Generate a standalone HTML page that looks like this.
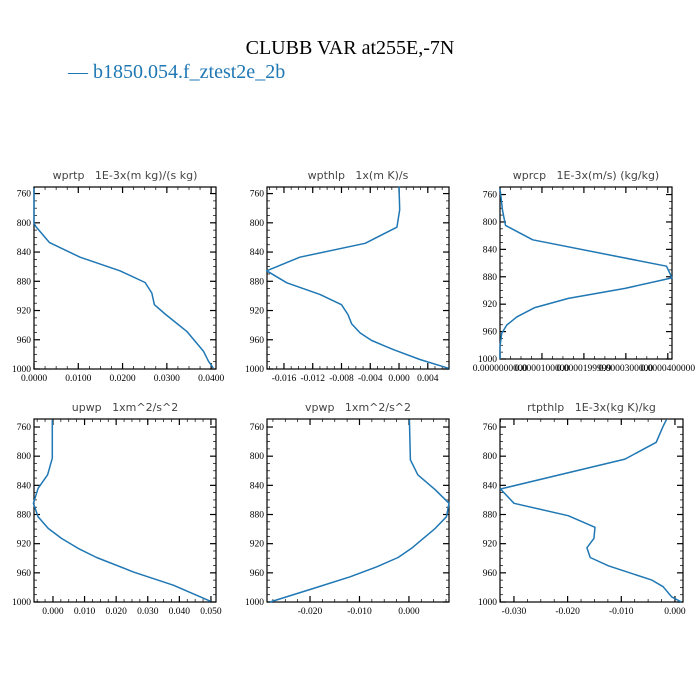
<!DOCTYPE html>
<html><head><meta charset="utf-8">
<style>
html,body{margin:0;padding:0;background:#fff;}
svg{display:block;}
.tt{font-family:"DejaVu Sans","Liberation Sans",sans-serif;font-size:11px;fill:#444;white-space:pre;}
.tk{font-family:"Liberation Serif",serif;font-size:9.5px;fill:#000;}
</style></head>
<body>
<svg id="c" width="700" height="700" viewBox="0 0 700 700">
<text x="350" y="54" text-anchor="middle" font-family="Liberation Serif, serif" font-size="20" fill="#000">CLUBB VAR at255E,-7N</text>
<g>
<text x="68" y="78" font-family="Liberation Serif, serif" font-size="20" fill="#1f77b4">— b1850.054.f_ztest2e_2b</text>
</g>
</svg>
<script>
// wprtp
const p1=[752.8,800.5,805,827,847,865.7,881.6,896,912,924.8,948.6,975.9,989.5,998.6];
const v1=[0,0,0.0004,0.0035,0.0104,0.0194,0.0251,0.0266,0.0272,0.0296,0.0345,0.0383,0.0394,0.0405];
// wpthlp
const p2=[750.6,782,806,828,847,865.7,882,898,912,925.6,938,950.7,961,973.5,987,999];
const v2=[0,0.0001,-0.0003,-0.0047,-0.0138,-0.0184,-0.0156,-0.011,-0.008,-0.0071,-0.0066,-0.0054,-0.0038,-0.0008,0.0029,0.0069];
// wprcp
const p3=[751,783,805,826,864.6,881.6,897,911.6,925,938.5,950.5,962.6,982,1000];
const v3=[0,0.6e-6,1.3e-6,7.8e-6,39.7e-6,41e-6,29.8e-6,16.3e-6,8.3e-6,4e-6,1.6e-6,0.4e-6,0,0];
// upwp
const p4=[750,802.7,825.6,844,864.6,883,899,912.8,926.5,939,958.7,977,999];
const v4=[-0.0002,-0.0002,-0.0017,-0.0047,-0.0062,-0.0047,-0.0015,0.0027,0.0080,0.0138,0.0254,0.0381,0.0499];
// vpwp
const p5=[750,805,825.6,846,864.6,883,899,926.5,939,951.7,965.5,982,1000];
const v5=[0.0001,0.0003,0.0018,0.0053,0.0081,0.0076,0.0053,0.0005,-0.0022,-0.0065,-0.0119,-0.0196,-0.0281];
// rtpthlp
const p6=[750,759,781,804,845,864.6,881.6,897.6,912.8,925.6,939,950.4,970,979,993,1000];
const v6=[-0.0016,-0.0022,-0.0035,-0.0093,-0.0325,-0.030,-0.0199,-0.0149,-0.0151,-0.0164,-0.0158,-0.0124,-0.0043,-0.0022,-0.0006,0.0012];
const yTicks=[760,800,840,880,920,960,1000];
const xt1=["0.0000","0.0100","0.0200","0.0300","0.0400"],xv1=[0,0.01,0.02,0.03,0.04];
const xt2=["-0.016","-0.012","-0.008","-0.004","0.000","0.004"],xv2=[-0.016,-0.012,-0.008,-0.004,0,0.004];
const xt3=["0.0000000000","0.0000100000","0.0000199999","0.0000300000","0.0000400000"],xv3=[0,1e-5,2e-5,3e-5,4e-5];
const xt4=["0.000","0.010","0.020","0.030","0.040","0.050"],xv4=[0,0.01,0.02,0.03,0.04,0.05];
const xt5=["-0.020","-0.010","0.000"],xv5=[-0.02,-0.01,0];
const xt6=["-0.030","-0.020","-0.010","0.000"],xv6=[-0.03,-0.02,-0.01,0];

const NS="http://www.w3.org/2000/svg";
const svg=document.getElementById('c');
function mk(tag,attrs,parent){const e=document.createElementNS(NS,tag);for(const k in attrs)e.setAttribute(k,attrs[k]);parent.appendChild(e);return e;}

const panels=[
 {name:"wprtp",title:"wprtp   1E-3x(m kg)/(s kg)",L:34,R:216,T:187,B:369,x0:0,x1:0.0411,y0:751,y1:1000,p:p1,v:v1,xt:xt1,xv:xv1,minor:0.0025},
 {name:"wpthlp",title:"wpthlp   1x(m K)/s",L:267,R:449,T:187,B:369,x0:-0.01836,x1:0.00695,y0:751,y1:1000,p:p2,v:v2,xt:xt2,xv:xv2,minor:0.001},
 {name:"wprcp",title:"wprcp   1E-3x(m/s) (kg/kg)",L:500,R:672,T:187,B:359,x0:0,x1:4.1e-5,y0:749,y1:1000,p:p3,v:v3,xt:xt3,xv:xv3,minor:2.5e-6,small:true},
 {name:"upwp",title:"upwp   1xm^2/s^2",L:34,R:216,T:419,B:602,x0:-0.006,x1:0.0516,y0:749,y1:1000,p:p4,v:v4,xt:xt4,xv:xv4,minor:0.0025},
 {name:"vpwp",title:"vpwp   1xm^2/s^2",L:267,R:449,T:419,B:602,x0:-0.0287,x1:0.0081,y0:749,y1:1000,p:p5,v:v5,xt:xt5,xv:xv5,minor:0.0025},
 {name:"rtpthlp",title:"rtpthlp   1E-3x(kg K)/kg",L:500,R:683,T:419,B:602,x0:-0.0326,x1:0.0015,y0:749,y1:1000,p:p6,v:v6,xt:xt6,xv:xv6,minor:0.0025}
];

panels.forEach(P=>{
 const g=mk('g',{},svg);
 
 
 const sx=v=>P.L+(v-P.x0)/(P.x1-P.x0)*(P.R-P.L);
 const sy=p=>P.T+(p-P.y0)/(P.y1-P.y0)*(P.B-P.T);
 const t=mk('text',{x:(P.L+P.R)/2,y:P.T-8,'text-anchor':'middle','class':'tt'},g);
 t.setAttributeNS("http://www.w3.org/XML/1998/namespace","xml:space","preserve");
 t.textContent=P.title;
 
 
 const fr=mk('rect',{x:P.L,y:P.T,width:P.R-P.L,height:P.B-P.T,fill:'none',stroke:'#000','stroke-width':1.2},g);
 
 
 for(let p=760;p<=1000;p+=10){
  const y=sy(p);const maj=(p%40===0);const len=maj?6:3;
  mk('line',{x1:P.L,x2:P.L+len,y1:y,y2:y,stroke:'#000','stroke-width':maj?1.2:0.7},g);
  mk('line',{x1:P.R,x2:P.R-len,y1:y,y2:y,stroke:'#000','stroke-width':maj?1.2:0.7},g);
 }
 yTicks.forEach(p=>{
  const l=mk('text',{x:P.L-3,y:sy(p)+3,'text-anchor':'end','class':'tk'},g);
  l.textContent=String(p);
  
  
 });
 const step=P.minor;
 for(let v=Math.ceil(P.x0/step)*step;v<=P.x1+1e-12;v+=step){
  const x=sx(v);
  mk('line',{x1:x,x2:x,y1:P.B,y2:P.B-3,stroke:'#000','stroke-width':0.7},g);
  mk('line',{x1:x,x2:x,y1:P.T,y2:P.T+3,stroke:'#000','stroke-width':0.7},g);
 }
 P.xv.forEach((v,i)=>{
  const x=sx(v);
  mk('line',{x1:x,x2:x,y1:P.B,y2:P.B-6,stroke:'#000','stroke-width':1.2},g);
  mk('line',{x1:x,x2:x,y1:P.T,y2:P.T+6,stroke:'#000','stroke-width':1.2},g);
  const l=mk('text',{x:x,y:P.B+12,'text-anchor':'middle','class':'tk'},g);
  if(P.small)l.setAttribute('font-size','9');
  l.textContent=P.xt[i];
  
  
 });
 const pts=P.p.map((p,i)=>sx(P.v[i]).toFixed(1)+','+sy(p).toFixed(1)).join(' ');
 const ln=mk('polyline',{points:pts,fill:'none',stroke:'#1f77b4','stroke-width':1.5,'stroke-linejoin':'round'},g);
 
 
});
</script>
</body></html>
